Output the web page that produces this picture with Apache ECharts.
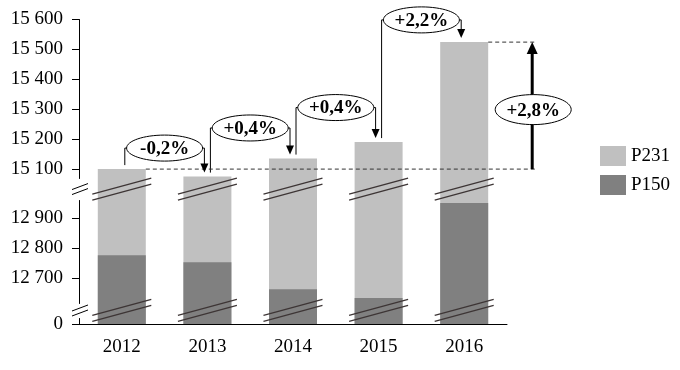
<!DOCTYPE html>
<html><head><meta charset="utf-8">
<script src="https://cdn.jsdelivr.net/npm/echarts@6/dist/echarts.min.js"></script>
<style>html,body{margin:0;padding:0;background:#fff}#c{width:680px;height:370px}</style>
</head><body><div id="c"></div>
<script>
// ---- data ----
const years = ['2012', '2013', '2014', '2015', '2016'];
const p231 = [15100, 15075, 15135, 15190, 15523];
const p150 = [12776, 12753, 12663, 12634, 12950];
const yTicks = [0, 12700, 12800, 12900, 15100, 15200, 15300, 15400, 15500, 15600];
const changeLabels = ['-0,2%', '+0,4%', '+0,4%', '+2,2%'];
const totalChangeLabel = '+2,8%';
// ---- annotation layout (axis units) ----
const changeLevels = [15170, 15237, 15305, 15597];
const axisBreaks = [{start: 20, end: 12617, gap: 50}, {start: 12960, end: 15070, gap: 73}];

(function () {
const FONT = 'Liberation Serif';
const LIGHT = '#c0c0c0', DARK = '#808080';
const chart = echarts.init(document.getElementById('c'), null, {renderer: 'canvas'});
const fmt = v => { const s = String(v); return s.length > 3 ? s.slice(0, s.length - 3) + ' ' + s.slice(-3) : s; };

chart.setOption({
  animation: false,
  grid: {left: 79, right: 173, top: 19, bottom: 46},
  legend: {
    data: ['P231', 'P150'], orient: 'vertical', left: 595, top: 141,
    itemWidth: 26, itemHeight: 20, itemGap: 9, icon: 'rect',
    textStyle: {fontFamily: FONT, fontSize: 19, color: '#000'}
  },
  xAxis: {
    type: 'category', data: years,
    axisLine: {lineStyle: {color: '#000', width: 1}},
    axisTick: {show: false},
    axisLabel: {fontFamily: FONT, fontSize: 19, color: '#000', margin: 14}
  },
  yAxis: {
    type: 'value', min: 0, max: 15600,
    breaks: axisBreaks,
    breakArea: {show: false},
    axisLine: {show: true, lineStyle: {color: '#000', width: 1}},
    axisTick: {show: true, length: 7, customValues: yTicks, lineStyle: {color: '#000'}},
    axisLabel: {customValues: yTicks, formatter: fmt, fontFamily: FONT, fontSize: 19, color: '#000', margin: 16},
    splitLine: {show: false}
  },
  series: [
    {name: 'P231', type: 'bar', data: p231, barWidth: 48, barGap: '-100%', itemStyle: {color: LIGHT}},
    {name: 'P150', type: 'bar', data: p150, barWidth: 48, barGap: '-100%', itemStyle: {color: DARK}}
  ]
});

function px(i, v) { return chart.convertToPixel({xAxisIndex: 0, yAxisIndex: 0}, [i, v]); }
function py(v) { return px(0, v)[1]; }
function cx(i) { return px(i, 0)[0]; }

const g = [];
const LINE = '#000';
function line(x1, y1, x2, y2, extra) {
  g.push({type: 'line', shape: {x1, y1, x2, y2}, style: Object.assign({stroke: LINE, lineWidth: 1}, extra || {}), z: 10});
}
function arrowDown(x, tipY, w, h) {
  g.push({type: 'polygon', shape: {points: [[x - w / 2, tipY - h], [x + w / 2, tipY - h], [x, tipY]]}, style: {fill: LINE}, z: 11});
}
function ellipseLabel(x, y, rx, ry, text) {
  g.push({type: 'ellipse', shape: {cx: x, cy: y, rx, ry}, style: {fill: '#fff', stroke: '#000', lineWidth: 1}, z: 12});
  g.push({type: 'text', x: x, y: y + 1, style: {text, fill: '#000', font: 'bold 19px "' + FONT + '"', align: 'center', verticalAlign: 'middle'}, z: 13});
}

// break slashes on bars and axis
axisBreaks.forEach(b => {
  const cyy = (py(b.start) + py(b.end)) / 2;
  years.forEach((y, i) => {
    const x = cx(i);
    [-3, 3].forEach(o => line(x - 29.5, cyy + 8 + o, x + 29.5, cyy - 8 + o, {stroke: '#3d3535', lineWidth: 1.3}));
  });
  const ax = cx(0) - 42.8 + 1;
  [-2.5, 2.5].forEach(o => line(ax - 8, cyy + 3 + o, ax + 8, cyy - 3 + o, {stroke: '#000', lineWidth: 1}));
});

// step connectors
changeLabels.forEach((lab, i) => {
  const lx = cx(i) + 3, rx = cx(i + 1) - 3, ly = py(changeLevels[i]);
  const y0 = py(p231[i]) - 4, y1 = py(p231[i + 1]) - 4;
  line(lx, y0, lx, ly);
  line(lx, ly, rx, ly);
  line(rx, ly, rx, y1 - 8);
  arrowDown(rx, y1, 8, 9);
  ellipseLabel((lx + rx) / 2, ly, 38, 13, lab);
});

// total change
const yBase = py(p231[0]), yTop = py(p231[4]);
const tx = cx(4) + 68;
line(cx(0) + 24, yBase, tx + 4, yBase, {stroke: '#333', lineDash: [4, 3]});
line(cx(4) + 24, yTop, tx + 4, yTop, {stroke: '#333', lineDash: [4, 3]});
line(tx, yBase, tx, yTop + 10, {lineWidth: 3});
g.push({type: 'polygon', shape: {points: [[tx - 5.5, yTop + 12], [tx + 5.5, yTop + 12], [tx, yTop]]}, style: {fill: LINE}, z: 11});
ellipseLabel(tx + 1, (yBase + yTop) / 2 + 4, 38, 15, totalChangeLabel);

chart.setOption({graphic: {elements: g}});
})();
</script>
</body></html>
